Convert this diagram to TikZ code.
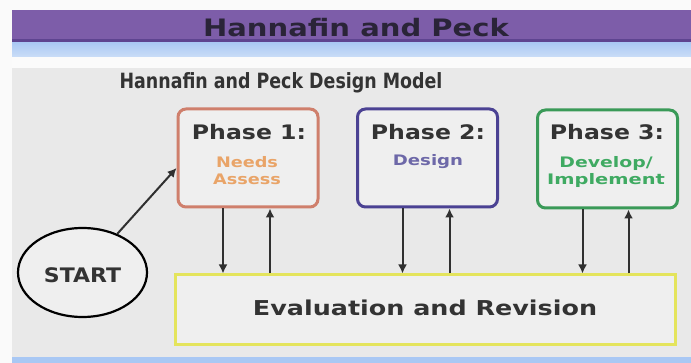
\documentclass[tikz,border=0pt]{standalone}
\usepackage{fontspec}
\usepackage{graphicx}
\setmainfont{DejaVu Sans}
\usetikzlibrary{arrows.meta,shapes.geometric}
\definecolor{bgray}{HTML}{E9E9E9}
\definecolor{purp}{HTML}{7D5DA9}
\definecolor{purpd}{HTML}{5E4490}
\definecolor{lblue}{HTML}{A9C8F4}
\definecolor{lblue2}{HTML}{CADDF7}
\definecolor{ptxt}{HTML}{2A2438}
\definecolor{txt}{HTML}{333333}
\definecolor{c1}{HTML}{CF7F6C}
\definecolor{c1t}{HTML}{E9A468}
\definecolor{c2}{HTML}{4B4293}
\definecolor{c2t}{HTML}{6D68A8}
\definecolor{c3}{HTML}{3A9A58}
\definecolor{c3t}{HTML}{3FAA62}
\definecolor{c4}{HTML}{E4E45C}
\definecolor{boxfill}{HTML}{EFEFEF}
\definecolor{arrc}{HTML}{303030}
\tikzset{
  phasebox/.style={draw, line width=3pt, rounded corners=8pt, fill=boxfill,
    minimum width=140pt, minimum height=98pt, inner sep=0pt},
  evalbox/.style={draw=c4, line width=3pt, fill=boxfill,
    minimum width=500pt, minimum height=70pt, inner sep=0pt},
  startnode/.style={draw=black, line width=2.2pt, ellipse, fill=boxfill,
    minimum width=129pt, minimum height=89pt, inner sep=0pt},
  arr/.style={draw=arrc, line width=2pt, -{Latex[length=9pt,width=9pt]}},
  phaselbl/.style={font=\bfseries\fontsize{20}{24}\selectfont, text=txt},
  sublbl/.style={font=\bfseries\fontsize{14.5}{18}\selectfont, align=center},
}
\begin{document}
\begin{tikzpicture}[x=1pt,y=-1pt]
\useasboundingbox (0,0) rectangle (691,363);
% backgrounds
\fill[white!96!gray] (0,0) rectangle (691,363);
\fill[bgray] (12,68) rectangle (691,357);
\fill[white!97!gray] (12,57) rectangle (691,68);
\shade[top color=lblue, bottom color=lblue2] (12,42) rectangle (691,57);
\fill[purp] (12,10) rectangle (691,42);
\fill[purpd] (12,39) rectangle (691,42);
\fill[lblue] (12,357) rectangle (691,363);
% title
\node (title) at (356,28) {\bfseries\fontsize{24}{28}\selectfont\color{ptxt}\scalebox{1.21}[1]{Hannafin and Peck}};
\node (sub) at (281,83) {\bfseries\fontsize{21}{24}\selectfont\color{txt}\scalebox{0.83}[1]{Hannafin and Peck Design Model}};
% boxes
\node[phasebox, draw=c1] (p1) at (248,158) {};
\node[phasebox, draw=c2] (p2) at (427.5,158) {};
\node[phasebox, draw=c3] (p3) at (607.5,159) {};
\node[evalbox] (ev) at (425,310) {};
\node[startnode] (st) at (82.5,272.5) {};
% labels
\node[phaselbl] (p1a) at (249,132) {\scalebox{1.18}[1]{Phase 1:}};
\node[sublbl, text=c1t] (p1b) at (247,171) {\scalebox{1.22}[1]{Needs}\\[-1pt]\scalebox{1.22}[1]{Assess}};
\node[phaselbl] (p2a) at (428,132) {\scalebox{1.18}[1]{Phase 2:}};
\node[sublbl, text=c2t] (p2b) at (428,162) {\scalebox{1.25}[1]{Design}};
\node[phaselbl] (p3a) at (607,132) {\scalebox{1.18}[1]{Phase 3:}};
\node[sublbl, text=c3t] (p3b) at (606,172) {\scalebox{1.3}[1]{Develop/}\\[-1pt]\scalebox{1.34}[1]{Implement}};
\node[font=\bfseries\fontsize{20.5}{24}\selectfont, text=txt] (evl) at (425,308) {\scalebox{1.24}[1]{Evaluation and Revision}};
\node[font=\bfseries\fontsize{20}{24}\selectfont, text=txt] (stl) at (82.5,275) {\scalebox{1.1}[1]{START}};
% connectors
\coordinate (p1in) at ([yshift=-10pt]p1.west);
\draw[arr] (st) -- (p1in);
\draw[arr] ([xshift=-25pt]p1.south) -- ([xshift=-25pt]p1.south |- ev.north);
\draw[arr] ([xshift=22pt]p1.south |- ev.north) -- ([xshift=22pt]p1.south);
\draw[arr] ([xshift=-25pt]p2.south) -- ([xshift=-25pt]p2.south |- ev.north);
\draw[arr] ([xshift=22pt]p2.south |- ev.north) -- ([xshift=22pt]p2.south);
\draw[arr] ([xshift=-25pt]p3.south) -- ([xshift=-25pt]p3.south |- ev.north);
\draw[arr] ([xshift=21pt]p3.south |- ev.north) -- ([xshift=21pt]p3.south);
\end{tikzpicture}
\end{document}
